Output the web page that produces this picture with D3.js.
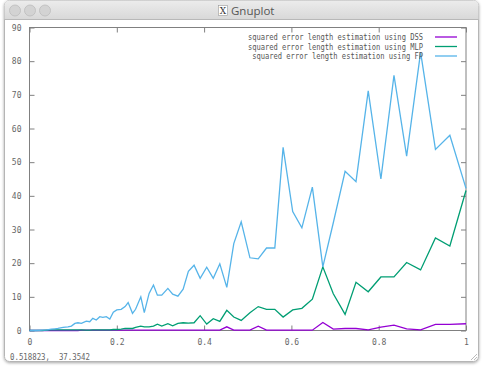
<!DOCTYPE html>
<html><head><meta charset="utf-8">
<script src="https://cdn.jsdelivr.net/npm/d3@7"></script>
<style>
html,body{margin:0;padding:0;background:#ffffff;}
svg{display:block;}
text{white-space:pre;}
</style></head>
<body>
<svg id="c" width="484" height="369"></svg>
<script>
const xs = [0,0.015,0.029,0.040,0.050,0.058,0.065,0.077,0.088,0.096,0.104,0.111,0.119,0.130,0.138,0.145,0.153,0.161,0.168,0.176,0.184,0.192,0.200,0.210,0.219,0.226,0.236,0.243,0.255,0.263,0.274,0.284,0.293,0.303,0.317,0.328,0.340,0.352,0.364,0.377,0.391,0.406,0.421,0.436,0.452,0.468,0.485,0.505,0.524,0.543,0.562,0.581,0.603,0.624,0.648,0.672,0.696,0.723,0.748,0.776,0.805,0.835,0.864,0.896,0.930,0.963,1.0];
const fpVals = [0,0,0.1,0.2,0.4,0.5,0.6,0.9,1.1,1.3,2.1,2.3,2.1,2.8,2.6,3.6,3.1,4.1,3.9,4.1,3.4,5.4,6.1,6.3,7.1,8.3,5.1,6.3,10.0,5.3,11.0,13.5,10.5,10.5,12.5,10.8,10.2,12.3,17.6,19.4,15.5,18.8,15.5,19.8,12.8,25.8,32.3,21.6,21.3,24.5,24.5,54.4,35.3,30.5,42.6,18.9,32.0,47.3,44.2,71.2,45.0,75.8,51.8,82.7,53.8,58.0,42.2];
const mlpVals = [0,0,0,0.1,0.2,0.2,0.2,0.2,0.2,0.2,0.2,0.2,0.2,0.1,0.1,0.2,0.2,0.2,0.2,0.2,0.2,0.3,0.3,0.4,0.6,0.6,0.6,0.9,1.3,1.1,1.1,1.3,1.9,1.3,2.0,1.4,2.1,2.3,2.2,2.3,4.4,1.9,3.5,2.7,6.0,4.0,3.0,5.3,7.1,6.3,6.3,4.0,6.1,6.6,9.3,18.9,10.9,4.8,14.3,11.5,15.9,15.9,20.2,18.0,27.5,25.1,41.6];
const dssVals = [0,0,0,0,0,0,0,0,0,0,0,0,0.1,0.1,0.1,0.1,0.1,0.1,0.1,0.1,0.1,0.1,0.1,0.1,0.1,0.1,0.1,0.1,0.1,0.1,0.1,0.1,0.1,0.1,0.1,0.1,0.1,0.1,0.1,0.1,0.1,0.1,0.1,0.1,1.1,0.1,0.1,0.1,1.3,0.1,0.1,0.1,0.1,0.1,0.1,2.4,0.4,0.6,0.6,0.2,1.0,1.6,0.5,0.2,1.8,1.8,2.0];
const xTicks = [0,0.2,0.4,0.6,0.8,1];
const xTickLabels = ["0","0.2","0.4","0.6","0.8","1"];
const yTicks = [0,10,20,30,40,50,60,70,80,90];
const seriesNames = ["squared error length estimation using DSS","squared error length estimation using MLP","squared error length estimation using FP"];
const seriesColors = ["#9400d3","#009e73","#56b4e9"];
const statusText = "0.518823,  37.3542";

const svg = d3.select("#c");
const defs = svg.append("defs");
const f = defs.append("filter").attr("id","sh").attr("x","-5%").attr("y","-5%").attr("width","110%").attr("height","115%");
f.append("feDropShadow").attr("dx",0).attr("dy",1).attr("stdDeviation",1.5).attr("flood-color","#000").attr("flood-opacity",0.35);
const tg = defs.append("linearGradient").attr("id","tb").attr("x1",0).attr("y1",0).attr("x2",0).attr("y2",1);
tg.append("stop").attr("offset","0%").attr("stop-color","#ececec");
tg.append("stop").attr("offset","100%").attr("stop-color","#d8d8d8");

// window
svg.append("rect").attr("x",4.5).attr("y",0.5).attr("width",474).attr("height",361).attr("rx",5)
  .attr("fill","#ffffff").attr("stroke","#b5b5b5").attr("filter","url(#sh)");
svg.append("path").attr("d","M4.5,19.5 L4.5,5.5 Q4.5,0.5 9.5,0.5 L473.5,0.5 Q478.5,0.5 478.5,5.5 L478.5,19.5 Z")
  .attr("fill","url(#tb)");
svg.append("line").attr("x1",4.5).attr("x2",478.5).attr("y1",19.5).attr("y2",19.5).attr("stroke","#b8b8b8");
[15,30,45].forEach(cx=>{
  svg.append("circle").attr("cx",cx).attr("cy",10.5).attr("r",5.5).attr("fill","#d3d3d3").attr("stroke","#bdbdbd").attr("stroke-width",0.8);
});
svg.append("rect").attr("x",218.5).attr("y",5.5).attr("width",9).attr("height",10).attr("fill","#fff").attr("stroke","#999").attr("stroke-width",0.6);
svg.append("text").attr("x",223).attr("y",13.8).attr("text-anchor","middle").attr("font-family","DejaVu Serif").attr("font-size",9).attr("fill","#333").text("X");
svg.append("text").attr("x",231).attr("y",14.5).attr("font-family","'Open Sans', 'DejaVu Sans', sans-serif").attr("font-size",11.5).attr("fill","#555").text("Gnuplot");

// plot
const x = d3.scaleLinear().domain([0,1]).range([29.5,466]);
const y = d3.scaleLinear().domain([0,90]).range([330.5,27.5]);
const g = svg.append("g");
const font = "'DejaVu Sans Mono', monospace";
const tickCol = "#808080";

g.append("rect").attr("x",x(0)).attr("y",y(90)).attr("width",x(1)-x(0)).attr("height",y(0)-y(90))
  .attr("fill","none").attr("stroke",tickCol).attr("stroke-width",1);

const xAxis = d3.axisBottom(x).tickValues(xTicks).tickFormat((d,i)=>xTickLabels[i]).tickSize(-5).tickPadding(7);
const xa = g.append("g").attr("transform",`translate(0,${y(0)})`).call(xAxis);
const xAxisTop = d3.axisTop(x).tickValues(xTicks).tickFormat("").tickSize(-5);
const xt = g.append("g").attr("transform",`translate(0,${y(90)})`).call(xAxisTop);
const yAxis = d3.axisLeft(y).tickValues(yTicks).tickSize(-5).tickPadding(7);
const ya = g.append("g").attr("transform",`translate(${x(0)},0)`).call(yAxis);
const yAxisR = d3.axisRight(y).tickValues(yTicks).tickFormat("").tickSize(-5);
const yr = g.append("g").attr("transform",`translate(${x(1)},0)`).call(yAxisR);
[xa,xt,ya,yr].forEach(a=>{
  a.select(".domain").remove();
  a.selectAll(".tick line").attr("stroke",tickCol);
  a.selectAll("text").attr("font-family",font).attr("font-size",8).attr("fill","#666");
});
ya.selectAll("text").attr("dx",-1);
xa.selectAll("text").attr("dy","0.9em");

const series = [dssVals, mlpVals, fpVals];
const line = d3.line().x((d,i)=>x(xs[i])).y(d=>y(d));
series.forEach((s,k)=>{
  g.append("path").datum(s).attr("d",line).attr("fill","none")
    .attr("stroke",seriesColors[k]).attr("stroke-width",1.3).attr("stroke-linejoin","miter");
});

// legend
const ly = [37, 46.5, 56];
seriesNames.forEach((n,k)=>{
  const t = g.append("text").attr("x",423).attr("y",ly[k]+3).attr("text-anchor","end")
    .attr("font-family",font).attr("font-size",8).attr("fill","#555").text(n);
  t.attr("textLength", n.length*4.27).attr("lengthAdjust","spacingAndGlyphs");
  g.append("line").attr("x1",435).attr("x2",457).attr("y1",ly[k]).attr("y2",ly[k])
    .attr("stroke",seriesColors[k]).attr("stroke-width",1.3);
});

// status text
svg.append("text").attr("x",10).attr("y",360).attr("font-family",font).attr("font-size",8.5)
  .attr("fill","#666").attr("textLength",80).attr("lengthAdjust","spacingAndGlyphs").text(statusText);

// resize grip
[[471,360,477,354],[474,360,477,357]].forEach(p=>{
  svg.append("line").attr("x1",p[0]).attr("y1",p[1]).attr("x2",p[2]).attr("y2",p[3]).attr("stroke","#aaa").attr("stroke-width",0.8);
});
</script>
</body></html>
